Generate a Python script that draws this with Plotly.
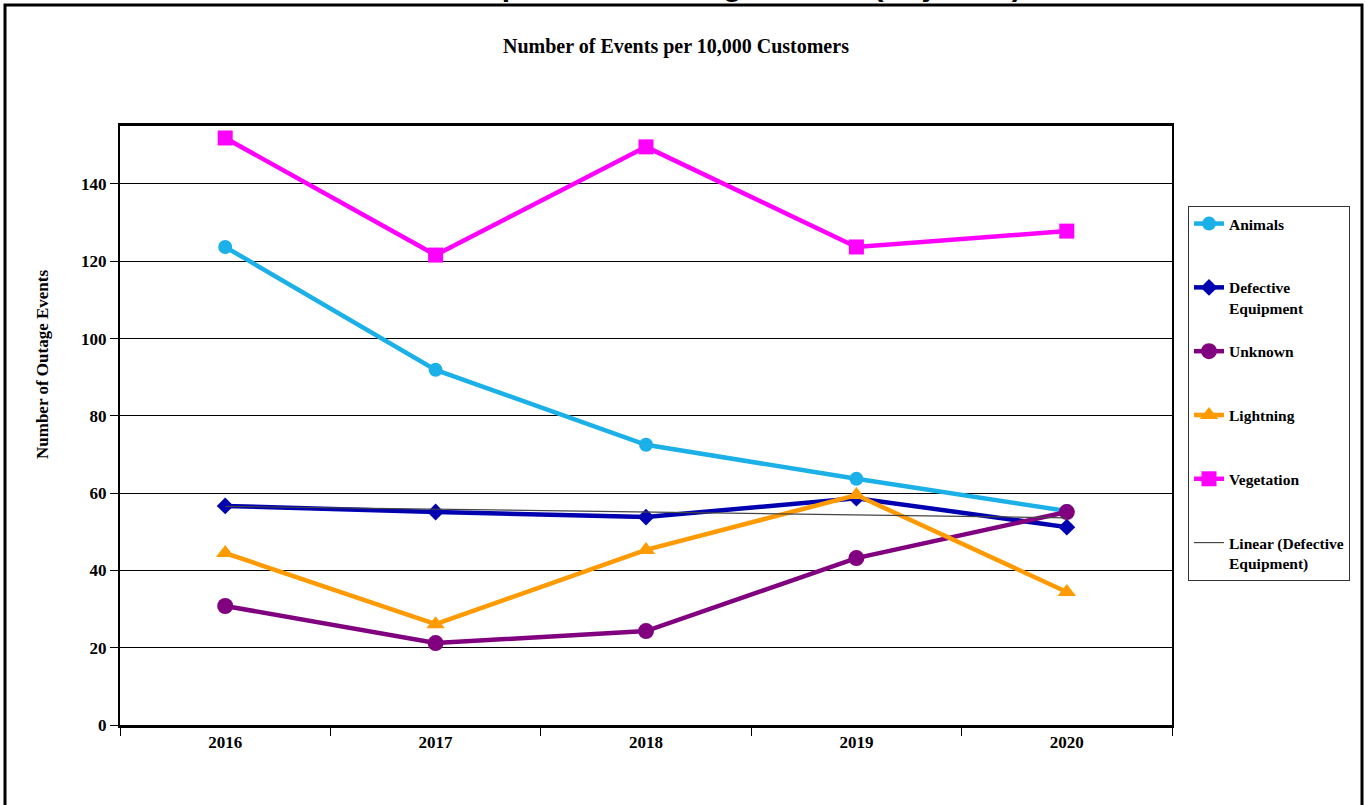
import numpy as np
import plotly.graph_objects as go

# ---------------- data ----------------
years = ["2016", "2017", "2018", "2019", "2020"]
animals = [123.7, 91.9, 72.5, 63.7, 55.4]
defective = [56.7, 55.1, 53.8, 58.7, 51.2]
unknown = [30.8, 21.2, 24.3, 43.2, 55.1]
lightning = [44.5, 26.1, 45.3, 59.5, 34.4]
vegetation = [151.9, 121.6, 149.6, 123.7, 127.8]
y_ticks = [0, 20, 40, 60, 80, 100, 120, 140]

# linear trend of Defective Equipment (least squares)
xi = np.arange(len(years))
slope, intercept = np.polyfit(xi, defective, 1)
trend = list(slope * xi + intercept)

# ---------------- layout geometry ----------------
W, H = 1365, 805
L, R, T, B = 120, 1365 - 1172, 126, 805 - 725
PW, PH = W - L - R, H - T - B


def px(x):
    return (x - L) / PW


def py(y):
    return (H - B - y) / PH


SERIF = "Liberation Serif, Times New Roman, serif"
SANS = "Liberation Sans, Arial, sans-serif"
NB = "\u00a0"

fig = go.Figure()


def add(name, label, y, color, symbol, size, width=4.5):
    fig.add_trace(go.Scatter(
        x=years, y=y, name=label, mode="lines+markers",
        legendgroup=name,
        line=dict(color=color, width=width),
        marker=dict(symbol=symbol, size=size, color=color, line=dict(width=0)),
    ))


add("a", "Animals<br>" + NB, animals, "#1CB0E8", "circle", 14)
add("d", "Defective<br>Equipment", defective, "#0000B0", "diamond", 13)
add("u", "Unknown<br>" + NB, unknown, "#800080", "circle", 16)
add("l", "Lightning<br>" + NB, lightning, "#FF9A00", "triangle-up", 16)
add("v", "Vegetation<br>" + NB, vegetation, "#FF00FF", "square", 15)

fig.add_trace(go.Scatter(
    x=years, y=trend, name="Linear (Defective<br>Equipment)", mode="lines",
    legendgroup="t", line=dict(color="#444444", width=1.2),
))

fig.update_layout(
    width=W, height=H,
    margin=dict(l=L, r=R, t=T, b=B),
    paper_bgcolor="white", plot_bgcolor="white",
    font=dict(family=SERIF, color="black"),
    showlegend=True,
    legend=dict(
        x=px(1188), y=py(206), xanchor="left", yanchor="top",
        bordercolor="#333333", borderwidth=1, bgcolor="white",
        font=dict(family=SERIF, size=15.5, color="black", weight="bold"),
        traceorder="grouped", tracegroupgap=20.5, valign="top",
    ),
    xaxis=dict(
        type="category", range=[-0.5, 4.5],
        showline=True, linecolor="black", linewidth=2.5, mirror=True,
        ticks="outside", tickson="boundaries", ticklen=8, tickcolor="black",
        tickwidth=1, showgrid=False,
        tickfont=dict(family=SERIF, size=17, color="black", weight="bold"),
    ),
    yaxis=dict(
        range=[0, 155], tickvals=y_ticks, ticktext=[str(v) for v in y_ticks],
        showline=True, linecolor="black", linewidth=2, mirror=True,
        ticks="outside", ticklen=8, tickcolor="black", tickwidth=1,
        showgrid=True, gridcolor="black", gridwidth=1, zeroline=False,
        tickfont=dict(family=SERIF, size=17, color="black", weight="bold"),
    ),
    shapes=[
        dict(type="rect", xref="paper", yref="paper",
             x0=px(5), x1=px(1362), y0=py(812), y1=py(5),
             line=dict(color="black", width=3), fillcolor="rgba(0,0,0,0)",
             layer="above"),
    ],
    annotations=[
        dict(text="Comparison of Outage Events (Adjusted)", xref="paper", yref="paper",
             x=px(433), y=py(4.5), xanchor="left", yanchor="bottom", showarrow=False,
             font=dict(family=SANS, size=30, color="black", weight="bold")),
        dict(text="Number of Events per 10,000 Customers", xref="paper", yref="paper",
             x=px(676), y=py(46), xanchor="center", yanchor="middle", showarrow=False,
             font=dict(family=SERIF, size=20, color="black", weight="bold")),
        dict(text="Number of Outage Events", xref="paper", yref="paper",
             x=px(42), y=py(365), xanchor="center", yanchor="middle", showarrow=False,
             textangle=-90,
             font=dict(family=SERIF, size=17, color="black", weight="bold")),
    ],
)

fig.write_html(
    "out.html",
    config={"displayModeBar": False},
    post_script="document.body.style.margin='0';document.body.style.overflow='hidden';",
)
